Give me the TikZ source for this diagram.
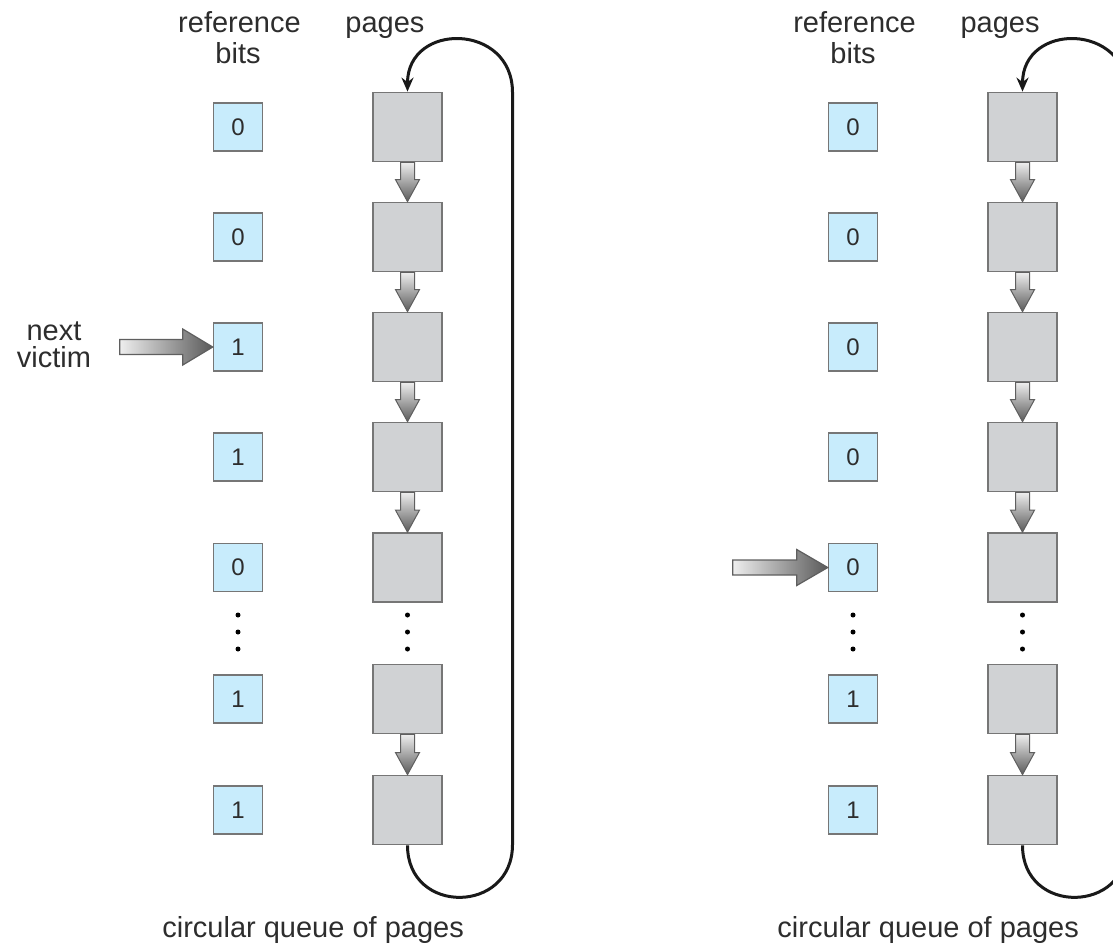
\documentclass[tikz,border=0pt]{standalone}
\usepackage{fontspec}
\setmainfont{Liberation Sans}
\usetikzlibrary{arrows.meta}
\definecolor{bitfill}{RGB}{200,236,252}
\definecolor{pagefill}{RGB}{208,210,212}
\definecolor{boxline}{RGB}{118,118,118}
\definecolor{labeltext}{RGB}{45,45,45}
\definecolor{arrowedge}{RGB}{95,95,95}
\definecolor{arrowdark}{RGB}{90,90,90}
\definecolor{arrowlight}{RGB}{238,238,238}

% shaded block arrow from the bottom of one page to the top of the next
\newcommand\pagelink[2]{%
  \draw[varrow] ([xshift=-3.5pt]#1.south)
    -- ([xshift=-3.5pt,yshift=11pt]#2.north)
    -- ([xshift=-6pt,yshift=11pt]#2.north)
    -- (#2.north)
    -- ([xshift=6pt,yshift=11pt]#2.north)
    -- ([xshift=3.5pt,yshift=11pt]#2.north)
    -- ([xshift=3.5pt]#1.south) -- cycle;}

\begin{document}
\begin{tikzpicture}[x=0.5pt,y=0.5pt,
  bitbox/.style={draw=boxline, line width=0.75pt, fill=bitfill,
    minimum width=24.5pt, minimum height=24pt, inner sep=0pt,
    font=\fontsize{12}{14}\selectfont, text=labeltext},
  pagebox/.style={draw=boxline, line width=0.9pt, fill=pagefill,
    minimum size=34.5pt, inner sep=0pt},
  caption/.style={font=\fontsize{14.5}{16}\selectfont, text=labeltext, inner sep=0pt},
  varrow/.style={draw=arrowedge, line width=0.5pt, line join=miter,
    top color=arrowlight, bottom color=arrowdark},
  harrow/.style={draw=arrowedge, line width=0.6pt, line join=miter,
    left color=arrowlight, right color=arrowdark},
  loopline/.style={draw=black!90, line width=1.5pt,
    -{Stealth[length=7pt,width=6pt]}},
  dot/.style={fill=black}]

\clip (0,0) rectangle (1113,-949);

% reference bits and page frames, one row at a time
\foreach \i/\y/\bl/\br in {1/127/0/0, 2/237/0/0, 3/347/1/0, 4/457/1/0,
                           5/567.5/0/0, 6/699/1/1, 7/810/1/1}{
  \node[bitbox]  (L-b\i) at (238,-\y)    {\bl};
  \node[pagebox] (L-p\i) at (407.5,-\y)  {};
  \node[bitbox]  (R-b\i) at (853,-\y)    {\br};
  \node[pagebox] (R-p\i) at (1022.5,-\y) {};
}

% links between consecutive pages
\foreach \s in {L,R}{
  \pagelink{\s-p1}{\s-p2}
  \pagelink{\s-p2}{\s-p3}
  \pagelink{\s-p3}{\s-p4}
  \pagelink{\s-p4}{\s-p5}
  \pagelink{\s-p6}{\s-p7}
}

% elided rows
\foreach \x in {238,407.5,853,1022.5}{
  \fill[dot] (\x,-615) circle (2.5);
  \fill[dot] (\x,-632) circle (2.5);
  \fill[dot] (\x,-649) circle (2.5);
}

% wrap-around of the circular queue
\coordinate (L-lb) at (512.5,-844.5);
\coordinate (L-lt) at (512.5,-92.5);
\coordinate (R-lb) at (1127.5,-844.5);
\coordinate (R-lt) at (1127.5,-92.5);
\foreach \s in {L,R}{
  \draw[loopline] (\s-p7.south) to[out=-90,in=-90,looseness=1.7] (\s-lb)
    -- (\s-lt) to[out=90,in=90,looseness=1.7] (\s-p1.north);
}

% clock hands
\draw[harrow] (L-b3.west) -- ++(-30,18) -- ++(0,-10.5) -- ++(-63,0)
  -- ++(0,-15) -- ++(63,0) -- ++(0,-10.5) -- cycle;
\draw[harrow] (R-b5.west) -- ++(-31,18) -- ++(0,-10.5) -- ++(-64,0)
  -- ++(0,-15) -- ++(64,0) -- ++(0,-10.5) -- cycle;

% headings
\node[caption, anchor=base] (L-h1) at (239.5,-32) {reference};
\node[caption, anchor=base] (L-h2) at (238,-63) {bits};
\node[caption, anchor=base] (L-h3) at (385,-32) {pages};
\node[caption, anchor=base] (R-h1) at (854.5,-32) {reference};
\node[caption, anchor=base] (R-h2) at (853,-63) {bits};
\node[caption, anchor=base] (R-h3) at (1000,-32) {pages};

\node[caption, anchor=base] (victim1) at (54,-340) {next};
\node[caption, anchor=base] (victim2) at (54,-367) {victim};

\node[caption, anchor=base west] (L-foot) at (162,-937) {circular queue of pages};
\node[caption, anchor=base west] (R-foot) at (777,-937) {circular queue of pages};
\end{tikzpicture}
\end{document}
